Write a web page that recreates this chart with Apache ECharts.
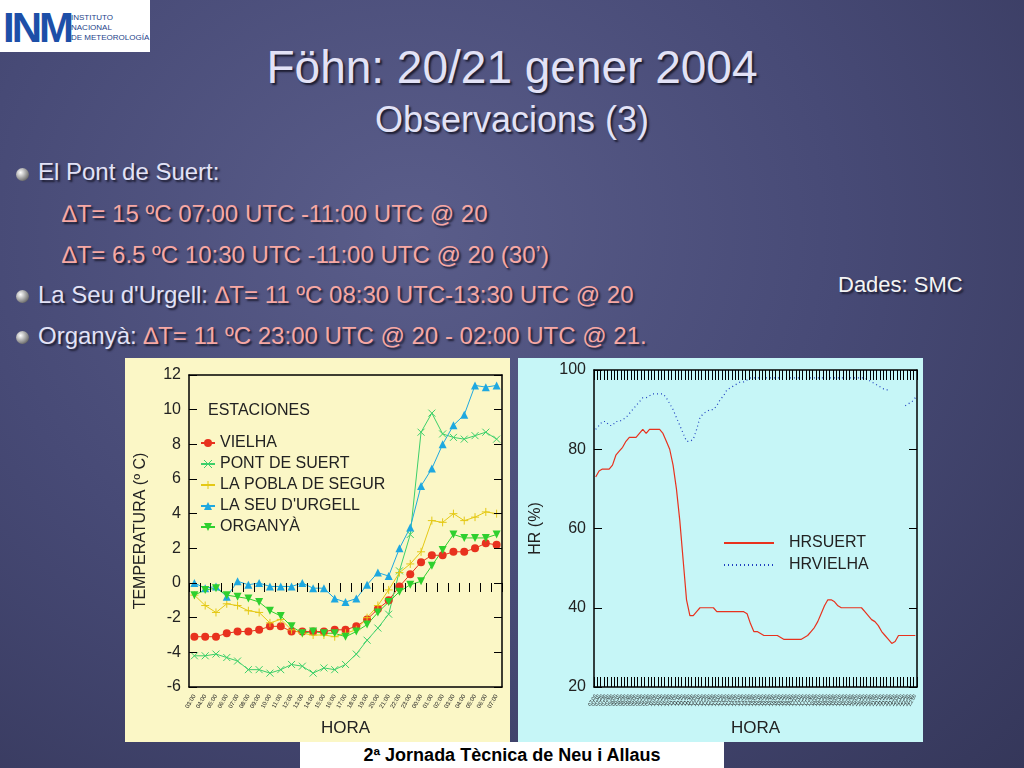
<!DOCTYPE html>
<html><head><meta charset="utf-8">
<script src="https://cdn.jsdelivr.net/npm/echarts@6/dist/echarts.min.js"></script>
<style>
body{margin:0;width:1024px;height:768px;overflow:hidden;font-family:"Liberation Sans",Arial,sans-serif;
background:radial-gradient(ellipse at 40% 30%,#5a5d8a 0%,#474a76 50%,#35375a 100%);position:relative;color:#e2e2f6}
.t{position:absolute;white-space:nowrap;text-shadow:2px 2px 2px #1c1c30}
.r{color:#f6a8a4}
.b{position:absolute;width:13px;height:13px;border-radius:50%;background:radial-gradient(circle at 35% 35%,#fff,#888 60%,#333)}
#c1{position:absolute;left:125px;top:358px;width:385px;height:384px;background:#fbf7c6}
#c2{position:absolute;left:518px;top:358px;width:405px;height:384px;background:#c6f6f7}
</style></head><body>
<div class="t" style="left:0;top:0;width:150px;height:52px;background:#fff;text-shadow:none"></div>
<div class="t" style="left:3px;top:4px;font:bold 42px 'Liberation Sans';color:#1d4fa8;letter-spacing:-3px;text-shadow:none">INM</div>
<div class="t" style="left:71px;top:13px;font:8px/10px 'Liberation Sans';color:#1d3f8a;text-shadow:none">INSTITUTO<br>NACIONAL<br>DE METEOROLOGÍA</div>
<div class="t" style="left:0;width:1024px;top:40px;text-align:center;font-size:46px">Föhn: 20/21 gener 2004</div>
<div class="t" style="left:0;width:1024px;top:99px;text-align:center;font-size:36px">Observacions (3)</div>
<div class="b" style="left:16px;top:168px"></div>
<div class="t" style="left:38px;top:158px;font-size:24px">El Pont de Suert:</div>
<div class="t r" style="left:62px;top:200px;font-size:24px">∆T= 15 ºC 07:00 UTC -11:00 UTC @ 20</div>
<div class="t r" style="left:62px;top:241px;font-size:24px">∆T= 6.5 ºC 10:30 UTC -11:00 UTC @ 20 (30’)</div>
<div class="b" style="left:16px;top:290px"></div>
<div class="t" style="left:38px;top:281px;font-size:24px">La Seu d'Urgell: <span class="r">∆T= 11 ºC 08:30 UTC-13:30 UTC @ 20</span></div>
<div class="b" style="left:16px;top:331px"></div>
<div class="t" style="left:38px;top:322px;font-size:24px">Organyà: <span class="r">∆T= 11 ºC 23:00 UTC @ 20 - 02:00 UTC @ 21.</span></div>
<div class="t" style="left:838px;top:272px;font-size:22px;color:#f4f4f4">Dades: SMC</div>
<div id="c1"></div><div id="c2"></div>
<div class="t" style="left:300px;top:742px;width:424px;height:26px;background:#fff;color:#000;text-align:center;font:bold 18px/26px 'Liberation Sans';text-shadow:none">2ª Jornada Tècnica de Neu i Allaus</div>
<script>
const hours=['03:00','04:00','05:00','06:00','07:00','08:00','09:00','10:00','11:00','12:00','13:00','14:00','15:00','16:00','17:00','18:00','19:00','20:00','21:00','22:00','23:00','00:00','01:00','02:00','03:00','04:00','05:00','06:00','07:00'];
const vielha=[-3.1,-3.1,-3.1,-2.9,-2.8,-2.8,-2.7,-2.5,-2.5,-2.8,-2.8,-2.8,-2.8,-2.7,-2.7,-2.5,-2.1,-1.5,-1.0,-0.2,0.5,1.2,1.6,1.6,1.8,1.8,2.0,2.3,2.2];
const pontSuert=[-4.2,-4.2,-4.1,-4.3,-4.5,-5.0,-5.0,-5.2,-5.0,-4.7,-4.8,-5.2,-4.9,-5.0,-4.7,-4.1,-3.3,-2.6,-1.8,0.7,2.8,8.7,9.8,8.6,8.4,8.3,8.5,8.7,8.3];
const pobla=[-0.7,-1.3,-1.7,-1.2,-1.3,-1.6,-1.7,-2.3,-2.1,-2.7,-2.9,-3.0,-3.0,-3.1,-2.9,-2.7,-2.0,-1.3,-0.4,0.6,1.1,1.8,3.6,3.5,4.0,3.6,3.8,4.1,4.0];
const seu=[0.0,-0.3,-0.2,-0.8,0.1,-0.1,0.0,-0.2,-0.2,-0.2,0.0,-0.3,-0.3,-0.9,-1.1,-0.9,-0.1,0.6,0.4,2.0,3.2,5.6,6.6,8.0,9.1,9.7,11.4,11.3,11.4];
const organya=[-0.7,-0.4,-0.3,-0.7,-0.8,-0.9,-1.1,-1.6,-1.9,-2.5,-2.9,-2.8,-2.9,-2.9,-3.1,-2.8,-2.4,-1.7,-1.1,-0.5,-0.1,0.1,1.0,1.9,2.8,2.6,2.6,2.6,2.8];
const tempTicks=['-6','-4','-2','0','2','4','6','8','10','12'];

const hrSuert=[73,74.5,75,75,75,76,78.5,79.5,80.5,82,83,83,83,84,85,84,85,85,85,85,84,82,80,76,70,62,52,42,38,38,39,40,40,40,40,40,39,39,39,39,39,39,39,39,39,38.5,36,34,34,33.5,33,33,33,33,33,32.5,32,32,32,32,32,32,32.5,33,34,35,36.5,38.5,40.5,42,42,41.5,40.5,40,40,40,40,40,40,40,39,38,37,36.5,35.5,34,33,32,31,31.5,33,33,33,33,33,33];
const hrVielha=[85,86,87,87,86,86,87,87,87.5,88,89,90,91,92,93,93,93.5,94,94,94,94,93,91.5,90,88,86,84,82,82,82.5,85,88,89,89.5,90,90,91,92.5,93.5,95,95.5,96,96.5,97,97,97.5,98,98,98,98,98,98,98,98,98,98,98,98,98,98,98,98,98,98,98,98,98,98,98,98,98,98,98,98,98,98,98,98,98,98,98,97.5,97,96.5,96,95.5,95,95,null,null,null,null,91,91.5,92,93];
const hrTicks=['20','40','60','80','100'];
const hrTimes=hrSuert.map((_,i)=>{const m=420+i*10;return String(Math.floor(m/60)%24).padStart(2,'0')+':'+String(m%60).padStart(2,'0');});

const F="'Liberation Sans',Arial,sans-serif";
const tick=(len,ins)=>({show:true,inside:ins,length:len,interval:0,lineStyle:{color:'#000',width:1}});
const line={show:true,onZero:false,lineStyle:{color:'#000',width:1.5}};
const yAx=(min,max,iv,name,gap,pos,lbl)=>({type:'value',min:min,max:max,interval:iv,position:pos,name:name,nameLocation:'middle',nameGap:gap,z:10,
 nameTextStyle:{fontSize:16,color:'#222'},axisLine:line,axisTick:{show:false},
 splitLine:{show:false},axisLabel:{show:lbl,fontSize:16,color:'#222'}});
const yTk=(cats,pos)=>({type:'category',data:cats,position:pos,offset:-8,boundaryGap:false,z:10,axisLine:{show:false},axisTick:tick(8,false),axisLabel:{show:false},splitLine:{show:false}});
const xAx=(cats,pos,lbl,fs)=>({type:'category',data:cats,position:pos,boundaryGap:[0.02,0.02],z:10,
 name:lbl?'HORA':'',nameLocation:'middle',nameGap:33,nameTextStyle:{fontSize:17,color:'#222'},
 axisLine:line,axisTick:{show:false},axisLabel:{show:lbl,fontSize:fs,rotate:60,interval:0,color:'#222'}});
const xTk=(cats,pos,len,ins,off)=>({type:'category',data:cats,position:pos,offset:off,boundaryGap:[0.02,0.02],z:10,
 axisLine:{show:false},axisTick:tick(len,ins),axisLabel:{show:false}});
const c1=echarts.init(document.getElementById('c1'));
const sym=(n,s,c,sz)=>({name:n,type:'line',data:null,symbol:s,symbolSize:sz,lineStyle:{width:1,color:c},itemStyle:{color:c}});
const s1=[sym('VIELHA','circle','#e8321e',8),sym('PONT DE SUERT','path://M0,0L10,10M10,0L0,10','#3ccf6a',7),
sym('LA POBLA DE SEGUR','path://M5,0L5,10M0,5L10,5','#e4c814',8),sym('LA SEU D\'URGELL','triangle','#1ea8e0',8),
sym('ORGANYÀ','path://M0,0L10,0L5,9Z','#2ed02e',8)];
[vielha,pontSuert,pobla,seu,organya].forEach((d,i)=>s1[i].data=d);
s1[1].itemStyle={color:'none',borderColor:'#3ccf6a',borderWidth:1};
s1[2].itemStyle={color:'none',borderColor:'#e4c814',borderWidth:1};
c1.setOption({animation:false,textStyle:{fontFamily:F},
grid:{left:63,right:8,top:17,bottom:52},
title:{text:'ESTACIONES',left:78,top:40,textStyle:{fontSize:16,fontWeight:'normal',color:'#222',fontFamily:F}},
legend:{orient:'vertical',left:70,top:72,itemGap:5,itemWidth:14,itemHeight:10,textStyle:{fontSize:16,color:'#222'},
 data:s1.map(s=>({name:s.name,itemStyle:s.itemStyle}))},
xAxis:[xAx(hours,'bottom',true,6),xTk(hours,'bottom',9,false,-9),xAx(hours,'top',false,6)],
yAxis:[yAx(-6,12,2,'TEMPERATURA (º C)',40,'left',true),yAx(-6,12,2,'',0,'right',false),yTk(tempTicks,'left'),yTk(tempTicks,'right')],
series:s1});

const c2=echarts.init(document.getElementById('c2'));
c2.setOption({animation:false,textStyle:{fontFamily:F},
grid:{left:76,right:6,top:12,bottom:49},
legend:{orient:'vertical',left:200,top:172,itemGap:6,itemWidth:50,itemHeight:12,itemStyle:{opacity:0},textStyle:{fontSize:16,color:'#222',padding:[0,0,0,10]},
 data:['HRSUERT','HRVIELHA']},
xAxis:[xAx(hrTimes,'bottom',true,5),xTk(hrTimes,'bottom',10,false,-10),xAx(hrTimes,'top',false,5),xTk(hrTimes,'top',10,true,0)],
yAxis:[yAx(20,100,20,'HR (%)',50,'left',true),yAx(20,100,20,'',0,'right',false),yTk(hrTicks,'left'),yTk(hrTicks,'right')],
series:[{name:'HRSUERT',type:'line',data:hrSuert,showSymbol:false,symbol:'none',lineStyle:{width:1.2,color:'#e8321e'},itemStyle:{color:'#e8321e'}},
 {name:'HRVIELHA',type:'line',data:hrVielha,showSymbol:false,symbol:'none',lineStyle:{width:1.2,color:'#2040c0',type:[1,3]},itemStyle:{color:'#2040c0'}}]});
</script></body></html>
